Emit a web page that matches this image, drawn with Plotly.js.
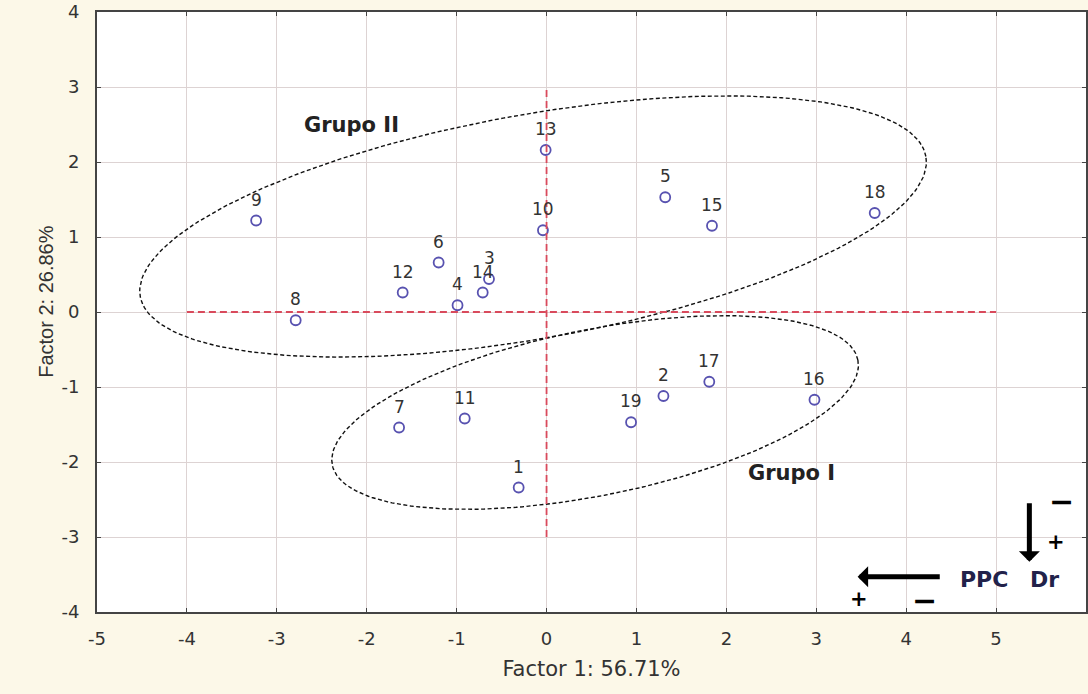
<!DOCTYPE html>
<html>
<head>
<meta charset="utf-8">
<script src="https://cdn.plot.ly/plotly-3.0.1.min.js"></script>
<style>
  html, body { margin: 0; padding: 0; background: #fcf8e8; }
  #chart { width: 1088px; height: 694px; }
</style>
</head>
<body>
<div id="chart"></div>
<script>
// ---- data ----
const pointLabels = ['1','2','3','4','5','6','7','8','9','10','11','12','13','14','15','16','17','18','19'];
const factor1 = [-0.31, 1.30, -0.64, -0.99, 1.32, -1.20, -1.64, -2.79, -3.23, -0.04, -0.91, -1.60, -0.01, -0.71, 1.84, 2.98, 1.81, 3.65, 0.94];
const factor2 = [-2.34, -1.12, 0.44, 0.09, 1.53, 0.66, -1.54, -0.11, 1.22, 1.09, -1.42, 0.26, 2.16, 0.26, 1.15, -1.17, -0.93, 1.32, -1.47];
const xTicks = [-5, -4, -3, -2, -1, 0, 1, 2, 3, 4, 5, 6];
const yTicks = [-4, -3, -2, -1, 0, 1, 2, 3, 4];

// ---- layout geometry ----
const W = 1088, H = 694;
const M = {l: 97, r: 2, t: 12, b: 82};
const xRange = [-5, 6], yRange = [-4, 4];
const pxX = (W - M.l - M.r) / (xRange[1] - xRange[0]);
const pxY = (H - M.t - M.b) / (yRange[1] - yRange[0]);

// group ellipse outlines (center in data units, semi-axes in px, tilt in degrees)
function ellipse(cx, cy, aPx, bPx, deg) {
  const th = deg * Math.PI / 180, xs = [], ys = [];
  for (let i = 0; i <= 240; i++) {
    const t = 2 * Math.PI * i / 240;
    const u = aPx * Math.cos(t), v = bPx * Math.sin(t);
    xs.push(cx + (u * Math.cos(th) - v * Math.sin(th)) / pxX);
    ys.push(cy + (u * Math.sin(th) + v * Math.cos(th)) / pxY);
  }
  return {xs, ys};
}
const e2 = ellipse(-0.15, 1.14, 399, 112, 10.1);
const e1 = ellipse(0.54, -1.34, 268, 83, 11.3);

const fontA = 'Liberation Sans, Arial, sans-serif';
const fontW = 'DejaVu Sans, Verdana, sans-serif';

const traces = [
  {x: e2.xs, y: e2.ys, mode: 'lines', line: {color: '#111', width: 1.4, dash: '4px,2.5px'}, hoverinfo: 'skip', showlegend: false},
  {x: e1.xs, y: e1.ys, mode: 'lines', line: {color: '#111', width: 1.4, dash: '4px,2.5px'}, hoverinfo: 'skip', showlegend: false},
  {x: factor1, y: factor2, mode: 'markers', type: 'scatter',
   marker: {symbol: 'circle-open', size: 10, color: '#5852b0', line: {width: 1.8, color: '#5852b0'}},
   showlegend: false}
];

const annotations = pointLabels.map((t, i) => ({
  x: factor1[i], y: factor2[i], text: t, showarrow: false, yshift: 21,
  font: {family: fontW, size: 17, color: '#333'}
}));

// group names
annotations.push({x: -2.17, y: 2.49, text: '<b>Grupo II</b>', showarrow: false, font: {family: fontW, size: 21, color: '#222'}});
annotations.push({x: 2.72, y: -2.15, text: '<b>Grupo I</b>', showarrow: false, font: {family: fontW, size: 21, color: '#222'}});

// direction arrows
annotations.push({x: 5.37, y: -3.33, ax: 5.37, ay: -2.53, axref: 'x', ayref: 'y', text: '', showarrow: true,
  arrowhead: 1, arrowsize: 0.7, arrowwidth: 5, arrowcolor: '#000'});
annotations.push({x: 3.46, y: -3.53, ax: 4.39, ay: -3.53, axref: 'x', ayref: 'y', text: '', showarrow: true,
  arrowhead: 1, arrowsize: 0.7, arrowwidth: 5, arrowcolor: '#000'});
annotations.push({x: 4.87, y: -3.57, text: '<b>PPC</b>', showarrow: false, font: {family: fontW, size: 22, color: '#22224a'}});
annotations.push({x: 5.54, y: -3.57, text: '<b>Dr</b>', showarrow: false, font: {family: fontW, size: 22, color: '#22224a'}});
annotations.push({x: 5.73, y: -2.53, text: '<b>\u2212</b>', showarrow: false, font: {family: 'DejaVu Sans', size: 30, color: '#000'}});
annotations.push({x: 5.67, y: -3.06, text: '<b>+</b>', showarrow: false, font: {family: 'DejaVu Sans', size: 21, color: '#000'}});
annotations.push({x: 3.47, y: -3.83, text: '<b>+</b>', showarrow: false, font: {family: 'DejaVu Sans', size: 21, color: '#000'}});
annotations.push({x: 4.20, y: -3.85, text: '<b>\u2212</b>', showarrow: false, font: {family: 'DejaVu Sans', size: 30, color: '#000'}});

// y axis title
annotations.push({x: 0, xref: 'paper', xshift: -64, y: 0.517, yref: 'paper', textangle: -90,
  text: 'Factor 2: 26.86%', showarrow: false, font: {family: fontA, size: 20, color: '#333'}});

const layout = {
  width: W, height: H,
  margin: M,
  paper_bgcolor: '#fcf8e8',
  plot_bgcolor: '#ffffff',
  xaxis: {
    range: xRange, tickvals: xTicks, ticktext: xTicks.map(String),
    showgrid: true, gridcolor: '#ddd3d3', gridwidth: 1, zeroline: false,
    showline: true, linecolor: '#444', linewidth: 2, mirror: 'ticks',
    ticks: 'inside', ticklen: 4, tickcolor: '#444', ticklabelstandoff: 9,
    tickfont: {family: fontW, size: 18, color: '#333'},
    title: {text: 'Factor 1: 56.71%', font: {family: fontW, size: 21, color: '#333'}, standoff: 14}
  },
  yaxis: {
    range: yRange, tickvals: yTicks, ticktext: yTicks.map(String),
    showgrid: true, gridcolor: '#ddd3d3', gridwidth: 1, zeroline: false,
    showline: true, linecolor: '#444', linewidth: 2, mirror: 'ticks',
    ticks: 'inside', ticklen: 4, tickcolor: '#444', ticklabelstandoff: 12,
    tickfont: {family: fontW, size: 18, color: '#333'}
  },
  shapes: [
    {type: 'line', x0: -4, x1: 5, y0: 0, y1: 0, line: {color: '#d94a5c', width: 1.8, dash: '7px,4px'}},
    {type: 'line', x0: 0, x1: 0, y0: -3, y1: 3, line: {color: '#d94a5c', width: 1.8, dash: '7px,4px'}}
  ],
  annotations: annotations,
  showlegend: false
};

Plotly.newPlot('chart', traces, layout, {displayModeBar: false, staticPlot: true});
</script>
</body>
</html>
